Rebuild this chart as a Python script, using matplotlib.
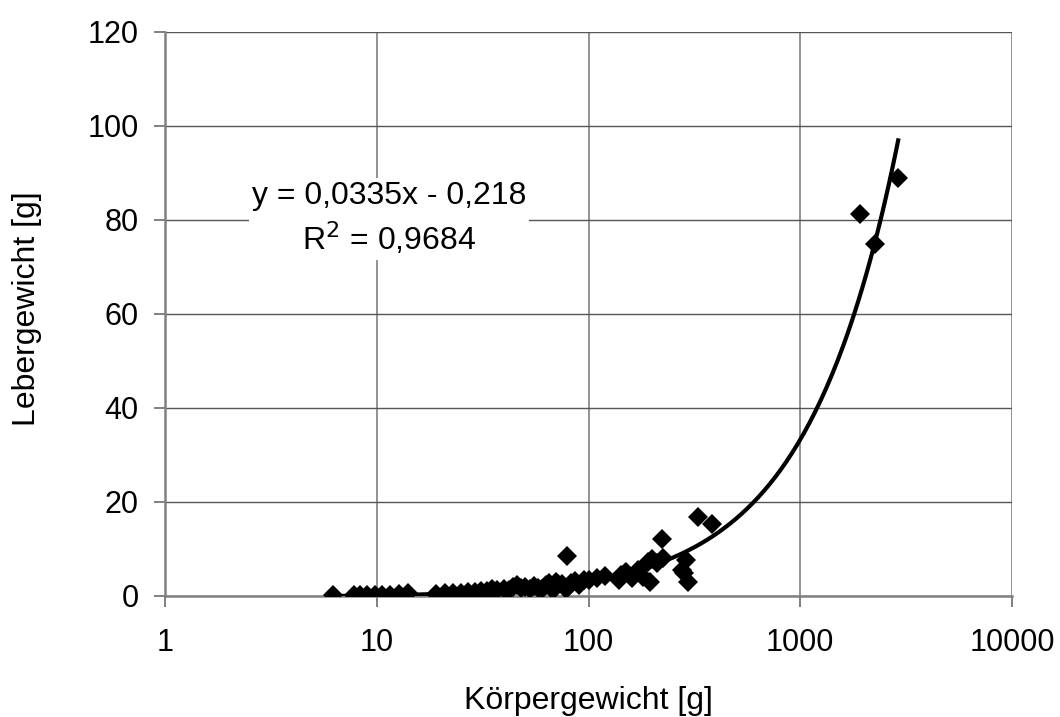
import matplotlib
matplotlib.use("Agg")
import matplotlib.pyplot as plt
import numpy as np

plt.rcParams["font.family"] = ["Liberation Sans", "DejaVu Sans"]

# body weight [g] vs liver weight [g]
koerpergewicht = [
    6.2, 7.8, 8.3, 9.0, 9.8, 10.6, 11.6, 12.8, 14.0,
    19.0, 21.0, 23.0, 25.0, 27.0, 29.0, 31.0, 32.0, 33.0, 35.0, 37.0,
    40.0, 42.0, 44.0, 46.0, 48.0, 50.0, 53.0, 55.0, 58.0, 60.0, 63.0,
    65.0, 68.0, 70.0, 72.0, 75.0, 78.0, 79.0, 80.0, 83.0, 86.0, 90.0,
    95.0, 100.0, 110.0, 120.0, 140.0, 143.0, 148.0, 151.0, 160.0, 165.0,
    172.0, 180.0, 192.0, 195.0, 199.0, 210.0, 222.0, 225.0, 276.0, 282.0,
    290.0, 294.0, 328.0, 382.0, 1920.0, 2250.0, 2900.0,
]
lebergewicht = [
    0.2, 0.2, 0.3, 0.3, 0.3, 0.3, 0.3, 0.4, 0.6,
    0.5, 0.6, 0.7, 0.6, 0.8, 0.9, 1.0, 0.5, 1.1, 1.4, 1.2,
    1.5, 1.2, 2.0, 2.4, 1.6, 2.0, 1.5, 2.2, 1.8, 1.4, 2.3,
    2.7, 1.3, 3.0, 2.5, 2.6, 1.5, 8.6, 2.0, 2.8, 3.1, 2.4,
    3.3, 3.5, 3.8, 4.2, 3.3, 4.5, 4.9, 5.2, 3.8, 4.6,
    5.5, 4.0, 7.3, 3.0, 7.8, 7.0, 12.1, 8.0, 5.5, 4.9,
    7.7, 3.0, 16.7, 15.4, 81.3, 74.9, 89.0,
]
slope, intercept = 0.0335, -0.218
eq_text = "y = 0,0335x - 0,218\nR$^2$ = 0,9684"

fig = plt.figure(figsize=(10.6, 7.17), dpi=100)
ax = fig.add_axes([0.1557, 0.1688, 0.799, 0.7866])

# linear trendline drawn on the log axis
xs = np.logspace(np.log10(min(koerpergewicht)), np.log10(max(koerpergewicht)), 300)
ax.plot(xs, slope * xs + intercept, color="black", linewidth=3, zorder=3)
ax.plot(koerpergewicht, lebergewicht, "D", color="black", markersize=10,
        markeredgewidth=0, zorder=4)

ax.set_xscale("log")
ax.set_xlim(1, 10000)
ax.set_ylim(0, 120)
ax.set_xticks([1, 10, 100, 1000, 10000])
ax.set_xticklabels(["1", "10", "100", "1000", "10000"])
ax.set_yticks(range(0, 121, 20))
ax.minorticks_off()
ax.set_axisbelow(True)
ax.xaxis.grid(True, color="#808080", linewidth=1.2)
ax.yaxis.grid(True, color="#555555", linewidth=1.0)
for side in ["top", "right"]:
    ax.spines[side].set_visible(False)
for side in ["left", "bottom"]:
    ax.spines[side].set_color("#808080")
    ax.spines[side].set_linewidth(1.8)
ax.tick_params(direction="out", length=8, width=1.4, color="#808080",
               labelsize=22)
ax.tick_params(axis="x", pad=15)
ax.tick_params(axis="y", pad=11)

ax.set_xlabel("Körpergewicht [g]", fontsize=23, labelpad=20)
ax.set_ylabel("Lebergewicht [g]", fontsize=23)
ax.yaxis.set_label_coords(-0.145, 0.51)

ax.text(11.4, 80.2, eq_text, fontsize=23, ha="center", va="center",
        linespacing=1.3, zorder=5,
        bbox=dict(facecolor="white", edgecolor="none", pad=2))

fig.savefig("out.png", dpi=100)
